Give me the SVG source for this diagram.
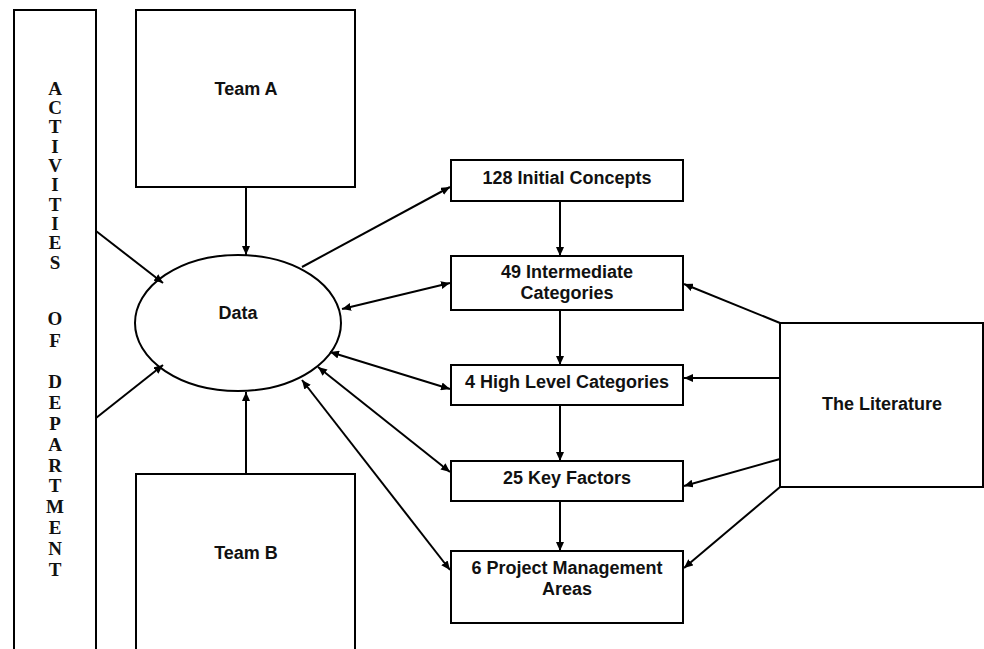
<svg xmlns="http://www.w3.org/2000/svg" width="984" height="649" viewBox="0 0 984 649">
<defs>
<marker id="ah" markerUnits="userSpaceOnUse" markerWidth="10" markerHeight="8" refX="9" refY="4" orient="auto-start-reverse">
<path d="M0,0 L9,4 L0,8 Z" fill="#000"/>
</marker>
</defs>
<style>
.box{fill:#fff;stroke:#000;stroke-width:2}
.t{font-family:"Liberation Sans",Arial,sans-serif;font-weight:bold;font-size:18px;fill:#111;text-anchor:middle}
.v{font-family:"Liberation Serif","Times New Roman",serif;font-weight:bold;font-size:19px;fill:#111;text-anchor:middle}
.c{fill:none;stroke:#000;stroke-width:2}
.a1{marker-end:url(#ah)}
.a2{marker-start:url(#ah);marker-end:url(#ah)}
</style>
<rect width="984" height="649" fill="#fff"/>
<g id="activities">
<rect class="box" x="14" y="10" width="82" height="660"/>
<text class="v" x="55" y="94.5">A</text>
<text class="v" x="55" y="113.5">C</text>
<text class="v" x="55" y="132.5">T</text>
<text class="v" x="55" y="152.5">I</text>
<text class="v" x="55" y="172">V</text>
<text class="v" x="55" y="191">I</text>
<text class="v" x="55" y="210.5">T</text>
<text class="v" x="55" y="230">I</text>
<text class="v" x="55" y="249">E</text>
<text class="v" x="55" y="268.5">S</text>
<text class="v" x="55" y="325">O</text>
<text class="v" x="55" y="346.5">F</text>
<text class="v" x="55" y="388">D</text>
<text class="v" x="55" y="409">E</text>
<text class="v" x="55" y="430">P</text>
<text class="v" x="55" y="451">A</text>
<text class="v" x="55" y="472">R</text>
<text class="v" x="55" y="491.5">T</text>
<text class="v" x="55" y="513">M</text>
<text class="v" x="55" y="534">E</text>
<text class="v" x="55" y="555">N</text>
<text class="v" x="55" y="575.5">T</text>
</g>
<g id="teamA">
<rect class="box" x="136" y="10" width="219" height="177"/>
<text class="t" x="246" y="94.5">Team A</text>
</g>
<g id="teamB">
<rect class="box" x="136" y="474" width="219" height="196"/>
<text class="t" x="246" y="559">Team B</text>
</g>
<g id="data">
<ellipse class="box" cx="238" cy="323" rx="103" ry="68"/>
<text class="t" x="238" y="318.5">Data</text>
</g>
<g id="initial">
<rect class="box" x="451" y="160" width="232" height="41"/>
<text class="t" x="567" y="183.5">128 Initial Concepts</text>
</g>
<g id="intermediate">
<rect class="box" x="451" y="256" width="232" height="54"/>
<text class="t" x="567" y="278">49 Intermediate</text>
<text class="t" x="567" y="298.5">Categories</text>
</g>
<g id="highlevel">
<rect class="box" x="451" y="365" width="232" height="40"/>
<text class="t" x="567" y="387.5">4 High Level Categories</text>
</g>
<g id="keyfactors">
<rect class="box" x="451" y="461" width="232" height="40"/>
<text class="t" x="567" y="483.5">25 Key Factors</text>
</g>
<g id="pmareas">
<rect class="box" x="451" y="551" width="232" height="72"/>
<text class="t" x="567" y="573.5">6 Project Management</text>
<text class="t" x="567" y="595">Areas</text>
</g>
<g id="literature">
<rect class="box" x="780" y="323" width="203" height="164"/>
<text class="t" x="882" y="409.5">The Literature</text>
</g>
<g id="connectors">
<line class="c a1" x1="246" y1="187" x2="246" y2="255"/>
<line class="c a1" x1="246" y1="474" x2="246" y2="392"/>
<line class="c a1" x1="96" y1="231" x2="163" y2="283"/>
<line class="c a1" x1="96" y1="418" x2="163" y2="365"/>
<line class="c a1" x1="302" y1="267" x2="450" y2="187"/>
<line class="c a2" x1="342" y1="309" x2="450" y2="283"/>
<line class="c a2" x1="330" y1="352" x2="450" y2="389"/>
<line class="c a2" x1="318" y1="367" x2="450" y2="472"/>
<line class="c a2" x1="302" y1="380" x2="450" y2="570"/>
<line class="c a1" x1="560" y1="201" x2="560" y2="256"/>
<line class="c a1" x1="560" y1="310" x2="560" y2="365"/>
<line class="c a1" x1="560" y1="405" x2="560" y2="461"/>
<line class="c a1" x1="560" y1="501" x2="560" y2="551"/>
<line class="c a1" x1="780" y1="323" x2="684" y2="284"/>
<line class="c a1" x1="780" y1="378" x2="684" y2="378"/>
<line class="c a1" x1="780" y1="459" x2="684" y2="486"/>
<line class="c a1" x1="780" y1="487" x2="684" y2="568"/>
</g>
</svg>
